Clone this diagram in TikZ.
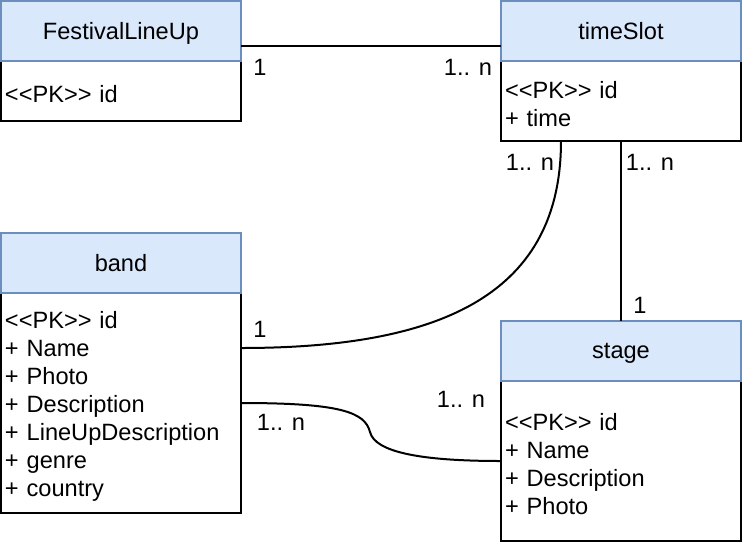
\documentclass[tikz,border=0pt]{standalone}
\usepackage{fontspec}
\newfontfamily\diagfont{Liberation Sans}
\usepackage{tikz}
\usetikzlibrary{positioning,calc}
\definecolor{hdrfill}{HTML}{DAE8FC}
\definecolor{hdrline}{HTML}{6C8EBF}
\tikzset{
  attrs/.style={draw=black, line width=2pt, outer sep=0pt, anchor=north west, minimum width=240pt, text width=232pt, inner xsep=4pt, inner ysep=0pt, align=left, execute at begin node={\rule{0pt}{23pt}}, font=\diagfont\fontsize{23.6}{28}\selectfont},
  entity/.style={draw=hdrline, fill=hdrfill, line width=2pt, outer sep=0pt, minimum width=240pt, minimum height=60pt, inner sep=0pt, text depth=0pt, font=\diagfont\fontsize{23.6}{28}\selectfont},
  link/.style={line width=2pt},
  mult/.style={inner sep=0pt, font=\diagfont\fontsize{23.6}{28}\selectfont}
}

\begin{document}
\begin{tikzpicture}[x=1pt, y=-1pt]
\useasboundingbox (0,0) rectangle (742,542);
% entities
\node[attrs, minimum height=60pt] (lineupBody) at (1,61) {<<PK>> id};
\node[entity, above=0pt of lineupBody] (lineup) {FestivalLineUp};
\node[attrs, minimum height=80pt] (slotBody) at (501,61) {<<PK>> id\\+ time};
\node[entity, above=0pt of slotBody] (slot) {timeSlot};
\node[attrs, minimum height=220pt] (bandBody) at (1,293) {<<PK>> id\\+ Name\\+ Photo\\+ Description\\+ LineUpDescription\\+ genre\\+ country};
\node[entity, above=0pt of bandBody] (band) {band};
\node[attrs, minimum height=160pt] (stageBody) at (501,381) {<<PK>> id\\+ Name\\+ Description\\+ Photo};
\node[entity, above=0pt of stageBody] (stage) {stage};
% relations
\draw[link] ([yshift=-15pt]lineup.east) -- ([yshift=-15pt]slot.west);
\draw[link] ([xshift=-60pt]slotBody.south) .. controls +(0,160) and +(189,0) .. ([yshift=55pt]bandBody.east);
\draw[link] (slotBody) -- (stage);
\draw[link] (bandBody.east) .. controls +(99,0) and +(-5,-20) .. ++(129,29) .. controls +(5,20) and +(-81,0) .. (stageBody.west);
% multiplicities
\node[mult] (lblLineup) at (260,67) {1};
\node[mult] (lblSlotA) at (468,67) {1.. n};
\node[mult] (lblSlotB) at (530,162) {1.. n};
\node[mult] (lblBandA) at (260,329) {1};
\node[mult] (lblSlotC) at (650,162) {1.. n};
\node[mult] (lblStageA) at (640,305) {1};
\node[mult] (lblStageB) at (461,399) {1.. n};
\node[mult] (lblBandB) at (281,422) {1.. n};
\end{tikzpicture}
\end{document}
